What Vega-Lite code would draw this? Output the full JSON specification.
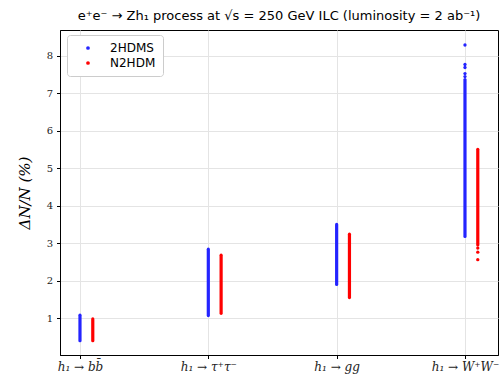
{
  "$schema": "https://vega.github.io/schema/vega-lite/v6.json",
  "width": 438,
  "height": 325,
  "autosize": {"type": "none"},
  "padding": {"left": 60, "top": 30, "right": 3, "bottom": 19},
  "background": "white",
  "title": {
    "text": "e⁺e⁻ → Zh₁ process at √s = 250 GeV ILC (luminosity = 2 ab⁻¹)",
    "font": "DejaVu Sans",
    "fontSize": 13,
    "fontWeight": "normal",
    "color": "black",
    "anchor": "middle",
    "offset": 7
  },
  "config": {
    "view": {"stroke": "black", "strokeWidth": 1},
    "axis": {
      "domainColor": "black",
      "tickColor": "black",
      "tickSize": 3.5,
      "gridColor": "#e4e4e4",
      "gridWidth": 1,
      "labelColor": "#222222",
      "labelFont": "DejaVu Serif",
      "labelFontSize": 10
    }
  },
  "datasets": {
    "ranges": [
      {"channel": "h₁ → bb̄", "model": "2HDMS", "low": 0.4, "high": 1.08},
      {"channel": "h₁ → bb̄", "model": "N2HDM", "low": 0.4, "high": 0.98},
      {"channel": "h₁ → τ⁺τ⁻", "model": "2HDMS", "low": 1.07, "high": 2.84},
      {"channel": "h₁ → τ⁺τ⁻", "model": "N2HDM", "low": 1.13, "high": 2.68},
      {"channel": "h₁ → gg", "model": "2HDMS", "low": 1.9, "high": 3.5},
      {"channel": "h₁ → gg", "model": "N2HDM", "low": 1.55, "high": 3.24},
      {"channel": "h₁ → W⁺W⁻", "model": "2HDMS", "low": 3.18, "high": 7.36},
      {"channel": "h₁ → W⁺W⁻", "model": "N2HDM", "low": 2.95, "high": 5.5}
    ],
    "isolated": [
      {"channel": "h₁ → W⁺W⁻", "model": "2HDMS", "value": 8.28},
      {"channel": "h₁ → W⁺W⁻", "model": "2HDMS", "value": 7.76},
      {"channel": "h₁ → W⁺W⁻", "model": "2HDMS", "value": 7.68},
      {"channel": "h₁ → W⁺W⁻", "model": "2HDMS", "value": 7.52},
      {"channel": "h₁ → W⁺W⁻", "model": "2HDMS", "value": 7.44},
      {"channel": "h₁ → W⁺W⁻", "model": "N2HDM", "value": 2.87},
      {"channel": "h₁ → W⁺W⁻", "model": "N2HDM", "value": 2.76},
      {"channel": "h₁ → W⁺W⁻", "model": "N2HDM", "value": 2.56}
    ]
  },
  "encoding": {
    "x": {
      "field": "channel",
      "type": "nominal",
      "sort": ["h₁ → bb̄", "h₁ → τ⁺τ⁻", "h₁ → gg", "h₁ → W⁺W⁻"],
      "scale": {"type": "point", "padding": 0.2065, "align": 0.377},
      "axis": {
        "title": null,
        "labelAngle": 0,
        "grid": true,
        "labelFont": "DejaVu Serif",
        "labelFontStyle": "italic",
        "labelFontSize": 12,
        "labelPadding": 3,
        "labelOverlap": false,
        "labelBound": false
      }
    },
    "color": {
      "field": "model",
      "type": "nominal",
      "scale": {"domain": ["2HDMS", "N2HDM"], "range": ["#2424ff", "#ff0000"]},
      "legend": {
        "title": null,
        "orient": "none",
        "legendX": 7,
        "legendY": 5,
        "fillColor": "white",
        "strokeColor": "#cccccc",
        "cornerRadius": 3,
        "padding": 7,
        "symbolType": "circle",
        "symbolSize": 5,
        "symbolOffset": 8,
        "labelOffset": 16,
        "labelFont": "DejaVu Sans",
        "labelFontSize": 12,
        "labelColor": "black",
        "rowPadding": 3
      }
    }
  },
  "layer": [
    {
      "data": {"name": "ranges"},
      "transform": [{"filter": "datum.model === '2HDMS'"}],
      "mark": {"type": "rule", "strokeWidth": 3.2, "strokeCap": "round"},
      "encoding": {
        "y": {
          "field": "low",
          "type": "quantitative",
          "scale": {"domain": [0.02, 8.68], "nice": false, "zero": false},
          "axis": {
            "title": "ΔN/N (%)",
            "titleFont": "DejaVu Serif",
            "titleFontStyle": "italic",
            "titleFontWeight": "normal",
            "titleFontSize": 15,
            "titleColor": "black",
            "titlePadding": 14,
            "values": [1, 2, 3, 4, 5, 6, 7, 8],
            "grid": true,
            "labelPadding": 4
          }
        },
        "y2": {"field": "high"}
      }
    },
    {
      "data": {"name": "ranges"},
      "transform": [{"filter": "datum.model === 'N2HDM'"}],
      "mark": {"type": "rule", "strokeWidth": 3.2, "strokeCap": "round", "xOffset": 12.8},
      "encoding": {
        "y": {"field": "low", "type": "quantitative"},
        "y2": {"field": "high"}
      }
    },
    {
      "data": {"name": "isolated"},
      "transform": [{"filter": "datum.model === '2HDMS'"}],
      "mark": {"type": "circle", "size": 11, "opacity": 1},
      "encoding": {
        "y": {"field": "value", "type": "quantitative"}
      }
    },
    {
      "data": {"name": "isolated"},
      "transform": [{"filter": "datum.model === 'N2HDM'"}],
      "mark": {"type": "circle", "size": 11, "opacity": 1, "xOffset": 12.8},
      "encoding": {
        "y": {"field": "value", "type": "quantitative"}
      }
    }
  ]
}
